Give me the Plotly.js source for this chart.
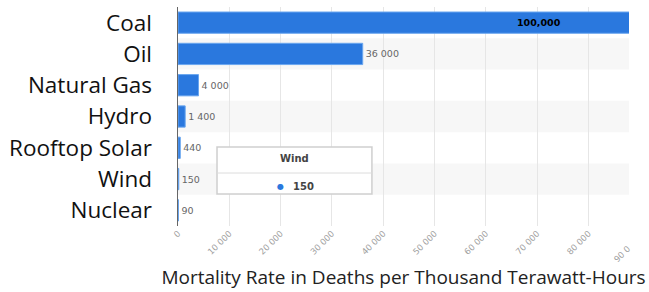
<!DOCTYPE html>
<html>
<head>
<meta charset="utf-8">
<script src="https://cdn.plot.ly/plotly-3.0.1.min.js"></script>
<style>html,body{margin:0;padding:0;background:#fff;}#chart{width:649px;height:292px;}</style>
</head>
<body>
<div id="chart"></div>
<script>
const categories = ['Coal', 'Oil', 'Natural Gas', 'Hydro', 'Rooftop Solar', 'Wind', 'Nuclear'];
const deaths = [100000, 36000, 4000, 1400, 440, 150, 90];
const valueLabels = ['100,000', '36 000', '4 000', '1 400', '440', '150', '90'];
const xTicks = [0, 10000, 20000, 30000, 40000, 50000, 60000, 70000, 80000];
const xTickLabels = ['0', '10 000', '20 000', '30 000', '40 000', '50 000', '60 000', '70 000', '80 000'];
const tooltipCategory = 'Wind';
const tooltipValue = deaths[categories.indexOf(tooltipCategory)];

const bandShapes = categories.map((c, i) => i % 2 === 1 ? {
  type: 'rect', xref: 'paper', yref: 'y', x0: 0, x1: 1, y0: i - 0.5, y1: i + 0.5,
  fillcolor: '#f7f7f7', line: {width: 0}, layer: 'below'
} : null).filter(Boolean);

// Coal bar runs past the visible range; its label sits inside the visible part
const trace = {
  type: 'bar', orientation: 'h',
  y: categories, x: deaths,
  marker: {color: '#2a78de', line: {color: '#6aa6ef', width: 1}},
  text: valueLabels.map((t, i) => i === 0 ? '' : t),
  textposition: 'outside',
  outsidetextfont: {family: 'DejaVu Sans', size: 9.5, color: '#666'},
  cliponaxis: true,
  hoverinfo: 'skip'
};

const layout = {
  width: 649, height: 292,
  margin: {l: 178, r: 20, t: 7, b: 66},
  paper_bgcolor: '#fff', plot_bgcolor: 'rgba(0,0,0,0)',
  separators: '. ',
  showlegend: false,
  bargap: 0.32,
  xaxis: {
    range: [0, 87900], tickvals: xTicks, ticktext: xTickLabels,
    tickangle: -45, tickfont: {family: 'DejaVu Sans', size: 8.5, color: '#a0a0a0'},
    showgrid: true, gridcolor: '#e6e6e6', gridwidth: 1,
    zeroline: false, showline: false, ticks: '',
    title: {text: 'Mortality Rate in Deaths per Thousand Terawatt-Hours',
      font: {family: 'Open Sans', size: 19, color: '#222'}, standoff: 14},
    fixedrange: true
  },
  yaxis: {
    type: 'category', autorange: 'reversed',
    tickfont: {family: 'Open Sans', size: 22.5, color: '#111'},
    showline: true, linecolor: '#666', linewidth: 1.5,
    showgrid: false, ticks: '', ticklabelstandoff: 20,
    fixedrange: true
  },
  shapes: bandShapes.concat([
    {type: 'rect', xref: 'paper', yref: 'paper', x0: 0.0865, x1: 0.43, y0: 0.146, y1: 0.3607,
      fillcolor: '#fff', line: {color: '#cfcfcf', width: 1.5}, layer: 'above'},
    {type: 'line', xref: 'paper', yref: 'paper', x0: 0.0865, x1: 0.43, y0: 0.242, y1: 0.242,
      line: {color: '#dcdcdc', width: 1}, layer: 'above'}
  ]),
  annotations: [
    {xref: 'paper', yref: 'y', x: 0.80, xanchor: 'center', yanchor: 'middle', y: categories[0],
      text: '<b>' + valueLabels[0] + '</b>',
      showarrow: false, font: {family: 'DejaVu Sans', size: 9.5, color: '#000'}},
    {xref: 'paper', yref: 'paper', x: 0.2585, xanchor: 'center', y: 0.306, yanchor: 'middle',
      text: '<b>' + tooltipCategory + '</b>',
      showarrow: false, font: {family: 'DejaVu Sans', size: 10, color: '#444'}},
    {xref: 'paper', yref: 'paper', x: 0.227, xanchor: 'center', y: 0.18, yanchor: 'middle', text: '●',
      showarrow: false, font: {family: 'DejaVu Sans', size: 8, color: '#2a78de'}},
    {xref: 'paper', yref: 'paper', x: 0.25, xanchor: 'left', y: 0.18, yanchor: 'middle',
      text: '<b>' + tooltipValue + '</b>',
      showarrow: false, font: {family: 'DejaVu Sans', size: 10, color: '#444'}},
    {xref: 'paper', yref: 'paper', x: 0.985, y: -0.07, yanchor: 'top', xanchor: 'center', text: '90 0',
      textangle: -45, showarrow: false, font: {family: 'DejaVu Sans', size: 8.5, color: '#a0a0a0'}}
  ]
};

Plotly.newPlot('chart', [trace], layout, {displayModeBar: false, staticPlot: true});
</script>
</body>
</html>
